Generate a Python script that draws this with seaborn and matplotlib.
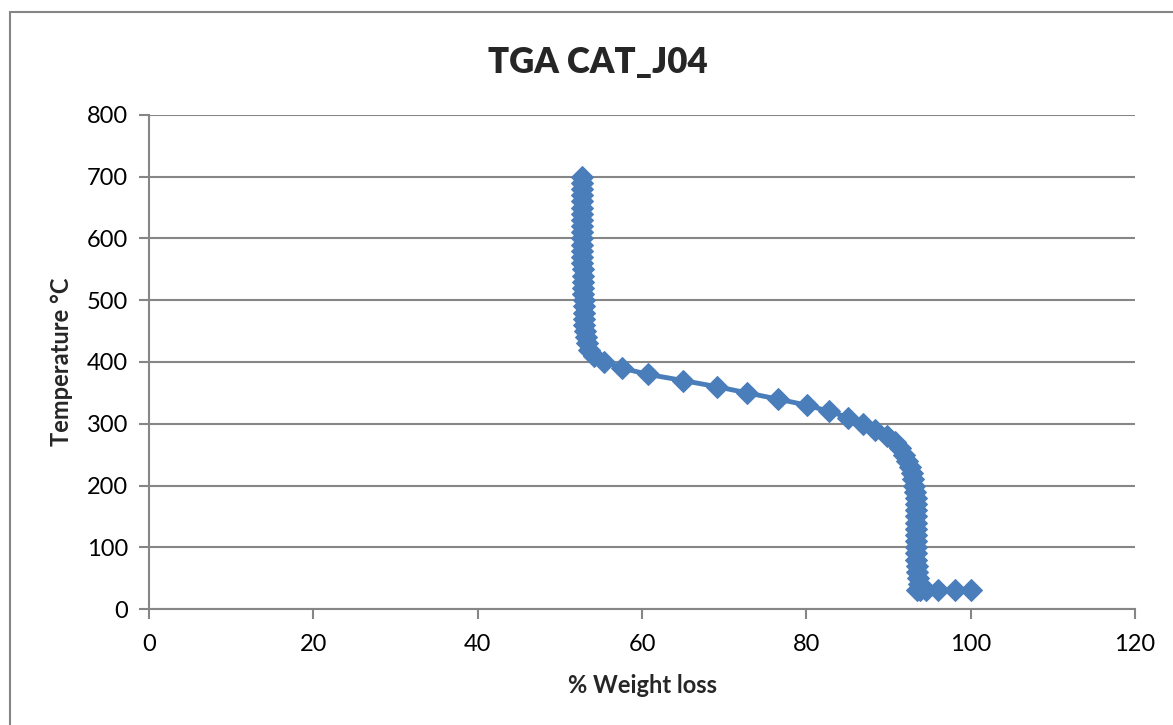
import matplotlib
matplotlib.use("Agg")
import matplotlib.pyplot as plt
import seaborn as sns
import pandas as pd
from matplotlib.patches import Rectangle

# TGA run for sample CAT_J04: temperature (°C) against % weight
temperature = [
    30, 30, 30, 30, 30, 30,
    40, 50, 60, 70, 80, 90, 100, 110, 120, 130, 140, 150, 160, 170,
    180, 190, 200, 210, 220, 230, 240, 250, 260, 270, 280, 290, 300,
    310, 320, 330, 340, 350, 360, 370, 380, 390, 400, 410, 420, 430,
    440, 450, 460, 470, 480, 490, 500, 510, 520, 530, 540, 550, 560,
    570, 580, 590, 600, 610, 620, 630, 640, 650, 660, 670, 680, 690, 700,
]
weight = [
    100.0, 98.1, 96.0, 94.6, 93.8, 93.5,
    93.7, 93.6, 93.5, 93.5, 93.4, 93.4, 93.4, 93.4, 93.4, 93.4, 93.4, 93.4, 93.3, 93.3,
    93.3, 93.2, 93.1, 93.0, 92.8, 92.6, 92.3, 91.9, 91.4, 90.8, 89.8, 88.4, 86.9,
    85.1, 82.8, 80.1, 76.5, 72.8, 69.1, 65.0, 60.7, 57.6, 55.4, 54.1, 53.6, 53.3,
    53.2, 53.1, 53.0, 53.0, 52.9, 52.9, 52.9, 52.8, 52.8, 52.8, 52.8, 52.8, 52.7,
    52.7, 52.7, 52.7, 52.7, 52.7, 52.7, 52.7, 52.7, 52.7, 52.7, 52.7, 52.7, 52.7, 52.7,
]

x_ticks = [0, 20, 40, 60, 80, 100, 120]
y_ticks = [0, 100, 200, 300, 400, 500, 600, 700, 800]

df = pd.DataFrame({"weight": weight, "temperature": temperature})

sns.set_theme(style="white")
plt.rcParams["font.family"] = ["Lato", "DejaVu Sans"]

W, H = 1173, 725
fig = plt.figure(figsize=(W / 100, H / 100), dpi=100)
ax = fig.add_axes([149 / W, 1 - 609 / H, (1135 - 149) / W, (609 - 115) / H])

blue = "#4a7ebb"
grid_c = "#868686"

sns.lineplot(data=df, x="weight", y="temperature", sort=False, estimator=None,
             ax=ax, color=blue, linewidth=3.5, marker="D", markersize=11,
             markeredgecolor=blue, markerfacecolor=blue, zorder=3)

ax.set_xlim(0, 120)
ax.set_ylim(0, 800)
ax.set_xticks(x_ticks)
ax.set_yticks(y_ticks)
ax.yaxis.grid(True, color=grid_c, linewidth=1.5)
ax.xaxis.grid(False)
ax.set_axisbelow(True)

for side in ("top", "right"):
    ax.spines[side].set_visible(False)
for side in ("left", "bottom"):
    ax.spines[side].set_color(grid_c)
    ax.spines[side].set_linewidth(1.5)

ax.tick_params(axis="both", which="major", direction="out", length=7,
               width=1.5, color=grid_c, labelsize=17, labelcolor="black",
               left=True, bottom=True)
ax.tick_params(axis="x", pad=11)
ax.tick_params(axis="y", pad=8)

ax.set_xlabel("% Weight loss", fontsize=17, fontweight="bold", labelpad=14)
ax.set_ylabel("Temperature °C", fontsize=17, fontweight="bold", labelpad=10)

fig.text(598 / W, 1 - 62 / H, "TGA CAT_J04", ha="center", va="center",
         fontsize=25, fontweight="heavy")

# outer chart frame
fig.patches.append(Rectangle((10 / W, -0.05), 1.2, 1 - 12 / H + 0.05,
                             transform=fig.transFigure, fill=False,
                             edgecolor=grid_c, linewidth=1.5))

fig.savefig("out.png", dpi=100, facecolor="white")
